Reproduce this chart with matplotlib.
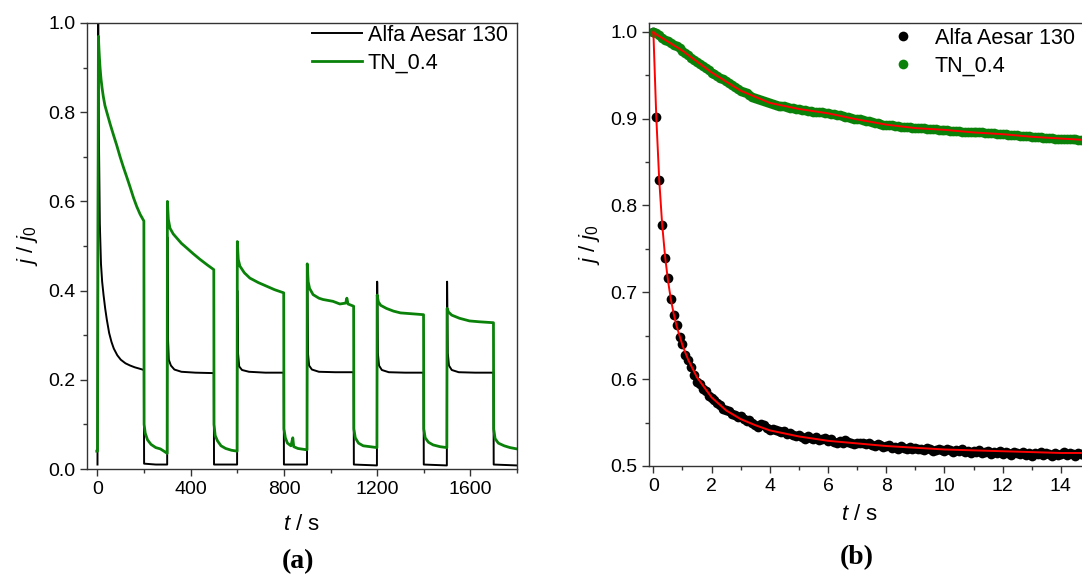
import numpy as np
import matplotlib
matplotlib.use("Agg")
import matplotlib.pyplot as plt
from matplotlib.ticker import MultipleLocator

# ---- panel (a): chopped-light chronoamperometry, j/j0 vs t (s) ----
aa_t = [0, 3, 6, 10, 15, 20, 26, 33, 40, 50, 60, 70, 85, 100, 120, 140, 160, 180, 199,
        200, 250, 299, 300, 302, 306, 315, 330, 360, 420, 499,
        500, 599, 600, 603, 608, 620, 650, 720, 799,
        800, 899, 900, 903, 908, 920, 950, 1020, 1099,
        1100, 1199, 1200, 1203, 1208, 1220, 1250, 1320, 1399,
        1400, 1499, 1500, 1503, 1508, 1520, 1550, 1620, 1699,
        1700, 1800]
aa_y = [0.01, 1.0, 0.75, 0.55, 0.46, 0.42, 0.39, 0.36, 0.335, 0.305, 0.285, 0.27, 0.255, 0.245,
        0.237, 0.232, 0.228, 0.225, 0.222,
        0.012, 0.01, 0.01, 0.52, 0.30, 0.245, 0.232, 0.223, 0.218, 0.216, 0.215,
        0.01, 0.01, 0.40, 0.26, 0.23, 0.222, 0.218, 0.216, 0.216,
        0.01, 0.01, 0.42, 0.26, 0.232, 0.223, 0.218, 0.217, 0.217,
        0.01, 0.008, 0.42, 0.26, 0.232, 0.222, 0.217, 0.216, 0.216,
        0.01, 0.008, 0.42, 0.26, 0.232, 0.222, 0.217, 0.216, 0.216,
        0.01, 0.008]

tn_t = [-3, 0, 4, 6, 8, 11, 15, 20, 25, 32, 40, 54, 68, 83, 97, 111, 126, 140, 154, 168, 183, 199,
        200, 205, 215, 230, 250, 270, 285, 299,
        300, 304, 311, 325, 340, 360, 382, 410, 440, 470, 499,
        500, 505, 515, 530, 550, 575, 599,
        600, 604, 611, 630, 654, 690, 725, 760, 799,
        800, 806, 815, 830, 838, 842, 860, 899,
        900, 904, 910, 925, 950, 968, 1010, 1040, 1065, 1070, 1075, 1099,
        1100, 1106, 1120, 1140, 1170, 1199,
        1200, 1205, 1215, 1240, 1270, 1300, 1350, 1399,
        1400, 1406, 1420, 1440, 1470, 1499,
        1500, 1506, 1520, 1553, 1596, 1640, 1699,
        1700, 1706, 1720, 1745, 1770, 1800]
tn_y = [0.04, 0.04, 0.97, 0.945, 0.925, 0.90, 0.875, 0.853, 0.835, 0.815, 0.80, 0.774, 0.75,
        0.725, 0.70, 0.677, 0.654, 0.632, 0.609, 0.589, 0.571, 0.556,
        0.10, 0.08, 0.065, 0.055, 0.048, 0.045, 0.04, 0.035,
        0.60, 0.56, 0.54, 0.527, 0.518, 0.506, 0.496, 0.483, 0.47, 0.458, 0.447,
        0.10, 0.075, 0.063, 0.052, 0.046, 0.042, 0.04,
        0.51, 0.47, 0.455, 0.44, 0.428, 0.418, 0.41, 0.402, 0.395,
        0.09, 0.07, 0.058, 0.052, 0.07, 0.05, 0.046, 0.043,
        0.46, 0.42, 0.405, 0.391, 0.383, 0.38, 0.376, 0.37, 0.372, 0.383, 0.37, 0.365,
        0.09, 0.07, 0.058, 0.052, 0.05, 0.048,
        0.39, 0.375, 0.367, 0.36, 0.354, 0.35, 0.348, 0.346,
        0.09, 0.07, 0.06, 0.054, 0.05, 0.048,
        0.36, 0.352, 0.345, 0.338, 0.332, 0.33, 0.328,
        0.09, 0.068, 0.058, 0.052, 0.048, 0.045]

# ---- panel (b): normalised transients, sampled every 0.1 s from 0 to 15 s ----
dt = 0.1
aa_pts = [1.000, 0.902, 0.829, 0.777, 0.740, 0.716, 0.692, 0.674, 0.662, 0.649,
          0.640, 0.628, 0.622, 0.614, 0.605, 0.597, 0.594, 0.589, 0.586, 0.581,
          0.578, 0.576, 0.573, 0.570, 0.566, 0.565, 0.563, 0.560, 0.559, 0.556,
          0.557, 0.554, 0.552, 0.553, 0.550, 0.547, 0.545, 0.548, 0.547, 0.544,
          0.542, 0.543, 0.541, 0.540, 0.539, 0.540, 0.537, 0.538, 0.536, 0.535,
          0.536, 0.533, 0.531, 0.534, 0.532, 0.531, 0.533, 0.530, 0.531, 0.532,
          0.529, 0.531, 0.528, 0.527, 0.529, 0.527, 0.530, 0.528, 0.526, 0.525,
          0.527, 0.526, 0.527, 0.525, 0.526, 0.524, 0.523, 0.525, 0.524, 0.522,
          0.523, 0.524, 0.521, 0.522, 0.520, 0.523, 0.521, 0.519, 0.522, 0.520,
          0.521, 0.519, 0.520, 0.518, 0.521, 0.519, 0.517, 0.518, 0.520, 0.518,
          0.517, 0.519, 0.518, 0.516, 0.518, 0.517, 0.519, 0.516, 0.517, 0.515,
          0.517, 0.516, 0.518, 0.515, 0.516, 0.517, 0.514, 0.516, 0.515, 0.517,
          0.514, 0.516, 0.515, 0.513, 0.516, 0.515, 0.514, 0.516, 0.513, 0.515,
          0.512, 0.515, 0.514, 0.516, 0.513, 0.515, 0.514, 0.512, 0.515, 0.513,
          0.514, 0.516, 0.513, 0.515, 0.514, 0.512, 0.515, 0.514, 0.513, 0.514,
          0.513]
tn_pts = [1.000, 0.998, 0.996, 0.993, 0.991, 0.989, 0.987, 0.985, 0.983, 0.981,
          0.978, 0.976, 0.973, 0.970, 0.967, 0.965, 0.963, 0.961, 0.958, 0.956,
          0.953, 0.951, 0.949, 0.947, 0.945, 0.943, 0.941, 0.939, 0.936, 0.934,
          0.932, 0.931, 0.929, 0.927, 0.925, 0.924, 0.922, 0.921, 0.920, 0.919,
          0.918, 0.917, 0.916, 0.915, 0.914, 0.914, 0.913, 0.912, 0.912, 0.911,
          0.911, 0.910, 0.910, 0.909, 0.909, 0.908, 0.908, 0.907, 0.907, 0.906,
          0.906, 0.905, 0.905, 0.904, 0.904, 0.903, 0.902, 0.902, 0.901, 0.900,
          0.899, 0.899, 0.898, 0.897, 0.897, 0.896, 0.895, 0.895, 0.894, 0.893,
          0.893, 0.892, 0.892, 0.891, 0.891, 0.890, 0.890, 0.890, 0.890, 0.889,
          0.889, 0.889, 0.889, 0.889, 0.888, 0.888, 0.888, 0.888, 0.887, 0.887,
          0.887, 0.887, 0.886, 0.886, 0.886, 0.886, 0.885, 0.885, 0.885, 0.885,
          0.884, 0.884, 0.884, 0.884, 0.883, 0.883, 0.883, 0.883, 0.882, 0.882,
          0.882, 0.882, 0.881, 0.881, 0.881, 0.881, 0.880, 0.880, 0.880, 0.880,
          0.879, 0.879, 0.879, 0.879, 0.878, 0.878, 0.878, 0.878, 0.877, 0.877,
          0.877, 0.877, 0.876, 0.876, 0.876, 0.876, 0.875, 0.875, 0.875, 0.875,
          0.874]

# fitted curves (red)
aa_fit_t = [0, 0.1, 0.2, 0.3, 0.4, 0.5, 0.6, 0.7, 0.8, 1.0, 1.2, 1.5, 2.0, 2.5, 3.0, 3.5,
            4.0, 5.0, 6.0, 7.0, 8.0, 9.0, 10.0, 12.0, 14.0, 15.0]
aa_fit_y = [1.0, 0.902, 0.830, 0.779, 0.742, 0.714, 0.692, 0.675, 0.661, 0.639, 0.622,
            0.602, 0.579, 0.564, 0.554, 0.547, 0.541, 0.534, 0.529, 0.526, 0.523, 0.521,
            0.519, 0.517, 0.515, 0.515]
tn_fit_t = [0, 1, 2, 3, 4, 5, 6, 7, 8, 9, 10, 11, 12, 13, 14, 15]
tn_fit_y = [0.999, 0.978, 0.953, 0.932, 0.918, 0.911, 0.906, 0.899, 0.893, 0.889, 0.887,
            0.884, 0.882, 0.879, 0.877, 0.875]

GREEN = "#0a820a"


def style_axes(ax):
    ax.tick_params(which="both", direction="out", top=False, right=False,
                   labelsize=14, width=1.0, color="#333333")
    ax.tick_params(which="major", length=5)
    ax.tick_params(which="minor", length=3)
    for sp in ax.spines.values():
        sp.set_linewidth(1.0)
        sp.set_color("#333333")


def main():
    plt.rcParams["font.family"] = ["Liberation Sans", "DejaVu Sans"]
    plt.rcParams["mathtext.fontset"] = "custom"
    plt.rcParams["mathtext.it"] = "Liberation Sans:italic"
    plt.rcParams["mathtext.rm"] = "Liberation Sans"

    fig = plt.figure(figsize=(10.82, 5.78), dpi=100)
    W, H = 1082, 578

    # (a)
    ax1 = fig.add_axes([87 / W, 1 - 469 / H, 430 / W, 446 / H])
    ax1.plot(aa_t, aa_y, color="black", lw=1.4, label="Alfa Aesar 130")
    ax1.plot(tn_t, tn_y, color=GREEN, lw=2.0, label="TN_0.4")
    ax1.set_xlim(-45, 1800)
    ax1.set_ylim(0, 1.0)
    ax1.xaxis.set_major_locator(MultipleLocator(400))
    ax1.xaxis.set_minor_locator(MultipleLocator(200))
    ax1.yaxis.set_major_locator(MultipleLocator(0.2))
    ax1.yaxis.set_minor_locator(MultipleLocator(0.1))
    ax1.yaxis.set_major_formatter(plt.FormatStrFormatter("%.1f"))
    style_axes(ax1)
    ax1.set_ylabel(r"$j$ / $j_0$", fontsize=16, labelpad=6)
    ax1.legend(loc="upper left", bbox_to_anchor=(312 / W, 1 - 25 / H),
               bbox_transform=fig.transFigure, frameon=False, fontsize=15.5,
               handlelength=2.3, handletextpad=0.3, labelspacing=0.3,
               borderpad=0, borderaxespad=0)
    fig.text(302 / W, 1 - 525 / H, r"$t$ / s", fontsize=16, ha="center", va="center")
    fig.text(298 / W, 1 - 562 / H, "(a)", fontsize=20, fontweight="bold",
             family="Liberation Serif", ha="center", va="center")

    # (b)
    t_pts = np.arange(len(aa_pts)) * dt
    ax2 = fig.add_axes([649 / W, 1 - 466 / H, 441 / W, 443 / H])
    ax2.plot(t_pts, aa_pts, "o", color="black", ms=7, mew=0, label="Alfa Aesar 130")
    ax2.plot(t_pts, tn_pts, "o", color=GREEN, ms=7, mew=0, label="TN_0.4")
    ax2.plot(aa_fit_t, aa_fit_y, color="red", lw=1.4)
    ax2.plot(tn_fit_t, tn_fit_y, color="red", lw=1.4)
    ax2.set_xlim(-0.15, 15)
    ax2.set_ylim(0.5, 1.01)
    ax2.xaxis.set_major_locator(MultipleLocator(2))
    ax2.xaxis.set_minor_locator(MultipleLocator(1))
    ax2.yaxis.set_major_locator(MultipleLocator(0.1))
    ax2.yaxis.set_minor_locator(MultipleLocator(0.05))
    ax2.yaxis.set_major_formatter(plt.FormatStrFormatter("%.1f"))
    style_axes(ax2)
    ax2.set_ylabel(r"$j$ / $j_0$", fontsize=16, labelpad=6)
    ax2.legend(loc="upper left", bbox_to_anchor=(881 / W, 1 - 28 / H),
               bbox_transform=fig.transFigure, frameon=False, fontsize=15.5,
               handlelength=2.0, handletextpad=0.5, labelspacing=0.3,
               borderpad=0, borderaxespad=0, numpoints=1, markerscale=1.0)
    fig.text(860 / W, 1 - 515 / H, r"$t$ / s", fontsize=16, ha="center", va="center")
    fig.text(857 / W, 1 - 558 / H, "(b)", fontsize=20, fontweight="bold",
             family="Liberation Serif", ha="center", va="center")

    fig.savefig("out.png", dpi=100)


if __name__ == "__main__":
    main()
